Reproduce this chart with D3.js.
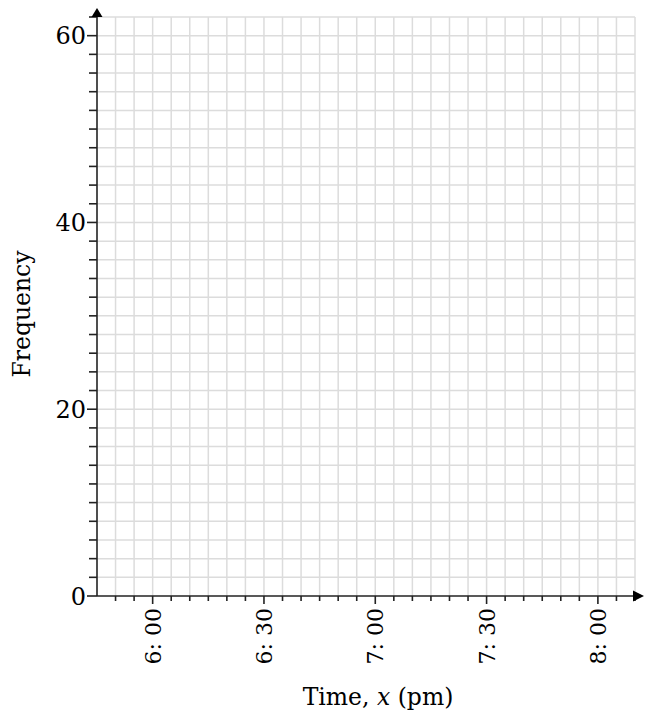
<!DOCTYPE html>
<html>
<head>
<meta charset="utf-8">
<script src="https://cdn.jsdelivr.net/npm/d3@7"></script>
<style>
  body { margin: 0; background: #fff; }
  text { font-family: "DejaVu Serif", serif; fill: #000; }
</style>
</head>
<body>
<div id="vis"></div>
<script>
// minutes after 6:00 pm
const xDomain = [-15, 130];
const yDomain = [0, 62];
const xMajorTicks = [0, 30, 60, 90, 120];
const xTickLabels = ["6: 00", "6: 30", "7: 00", "7: 30", "8: 00"];
const yMajorTicks = [0, 20, 40, 60];
const xStep = 5;
const yStep = 2;

const width = 652, height = 720;
const margin = { top: 17, right: 17, bottom: 124, left: 97 };

const svg = d3.select("#vis").append("svg")
  .attr("width", width)
  .attr("height", height);

const x = d3.scaleLinear().domain(xDomain).range([margin.left, width - margin.right]);
const y = d3.scaleLinear().domain(yDomain).range([height - margin.bottom, margin.top]);

const xMinor = d3.range(xDomain[0], xDomain[1] + 0.001, xStep);
const yMinor = d3.range(yDomain[0], yDomain[1] + 0.001, yStep);

// grid
const grid = svg.append("g").attr("class", "grid")
  .attr("stroke", "#dcdcdc").attr("stroke-width", 1.5);
grid.selectAll(".v").data(xMinor.slice(1)).enter().append("line")
  .attr("x1", d => x(d)).attr("x2", d => x(d))
  .attr("y1", y(yDomain[0])).attr("y2", y(yDomain[1]));
grid.selectAll(".h").data(yMinor.slice(1)).enter().append("line")
  .attr("x1", x(xDomain[0])).attr("x2", x(xDomain[1]))
  .attr("y1", d => y(d)).attr("y2", d => y(d));

// axes
const ax = svg.append("g").attr("stroke", "#222").attr("stroke-width", 1.6);
ax.append("line")
  .attr("x1", x(xDomain[0])).attr("x2", x(xDomain[1]) + 2)
  .attr("y1", y(0)).attr("y2", y(0));
ax.append("line")
  .attr("x1", x(xDomain[0])).attr("x2", x(xDomain[0]))
  .attr("y1", y(0)).attr("y2", y(yDomain[1]) - 2);

// arrow heads
svg.append("path")
  .attr("d", `M${x(xDomain[1]) - 2},${y(0) - 5.5} L${x(xDomain[1]) + 9},${y(0)} L${x(xDomain[1]) - 2},${y(0) + 5.5} Z`)
  .attr("fill", "#000");
svg.append("path")
  .attr("d", `M${x(xDomain[0]) - 5.5},${y(yDomain[1])} L${x(xDomain[0])},${y(yDomain[1]) - 9} L${x(xDomain[0]) + 5.5},${y(yDomain[1])} Z`)
  .attr("fill", "#000");

// x ticks
ax.selectAll(".xt").data(xMinor.slice(1)).enter().append("line")
  .attr("x1", d => x(d)).attr("x2", d => x(d))
  .attr("y1", y(0))
  .attr("y2", d => y(0) + (xMajorTicks.includes(d) ? 8 : 5));

// y ticks
ax.selectAll(".yt").data(yMinor).enter().append("line")
  .attr("y1", d => y(d)).attr("y2", d => y(d))
  .attr("x1", x(xDomain[0]))
  .attr("x2", d => x(xDomain[0]) - (yMajorTicks.includes(d) ? 10 : 8));

// x tick labels
svg.selectAll(".xl").data(xMajorTicks).enter().append("text")
  .attr("transform", d => `translate(${x(d)},${y(0) + 12}) rotate(-90)`)
  .attr("text-anchor", "end")
  .attr("dy", "0.36em")
  .style("font-size", "22px")
  .text((d, i) => xTickLabels[i]);

// y tick labels
svg.selectAll(".yl").data(yMajorTicks).enter().append("text")
  .attr("x", x(xDomain[0]) - 11)
  .attr("y", d => y(d))
  .attr("dy", "0.36em")
  .attr("text-anchor", "end")
  .style("font-size", "24px")
  .text(d => d);

// axis titles
const title = svg.append("text")
  .attr("x", 378).attr("y", 705)
  .attr("text-anchor", "middle")
  .style("font-size", "23.5px");
title.append("tspan").text("Time, ");
title.append("tspan").style("font-style", "italic").text("x");
title.append("tspan").text(" (pm)");

svg.append("text")
  .attr("transform", "translate(30,314) rotate(-90)")
  .attr("text-anchor", "middle")
  .style("font-size", "23.5px")
  .text("Frequency");
</script>
</body>
</html>
